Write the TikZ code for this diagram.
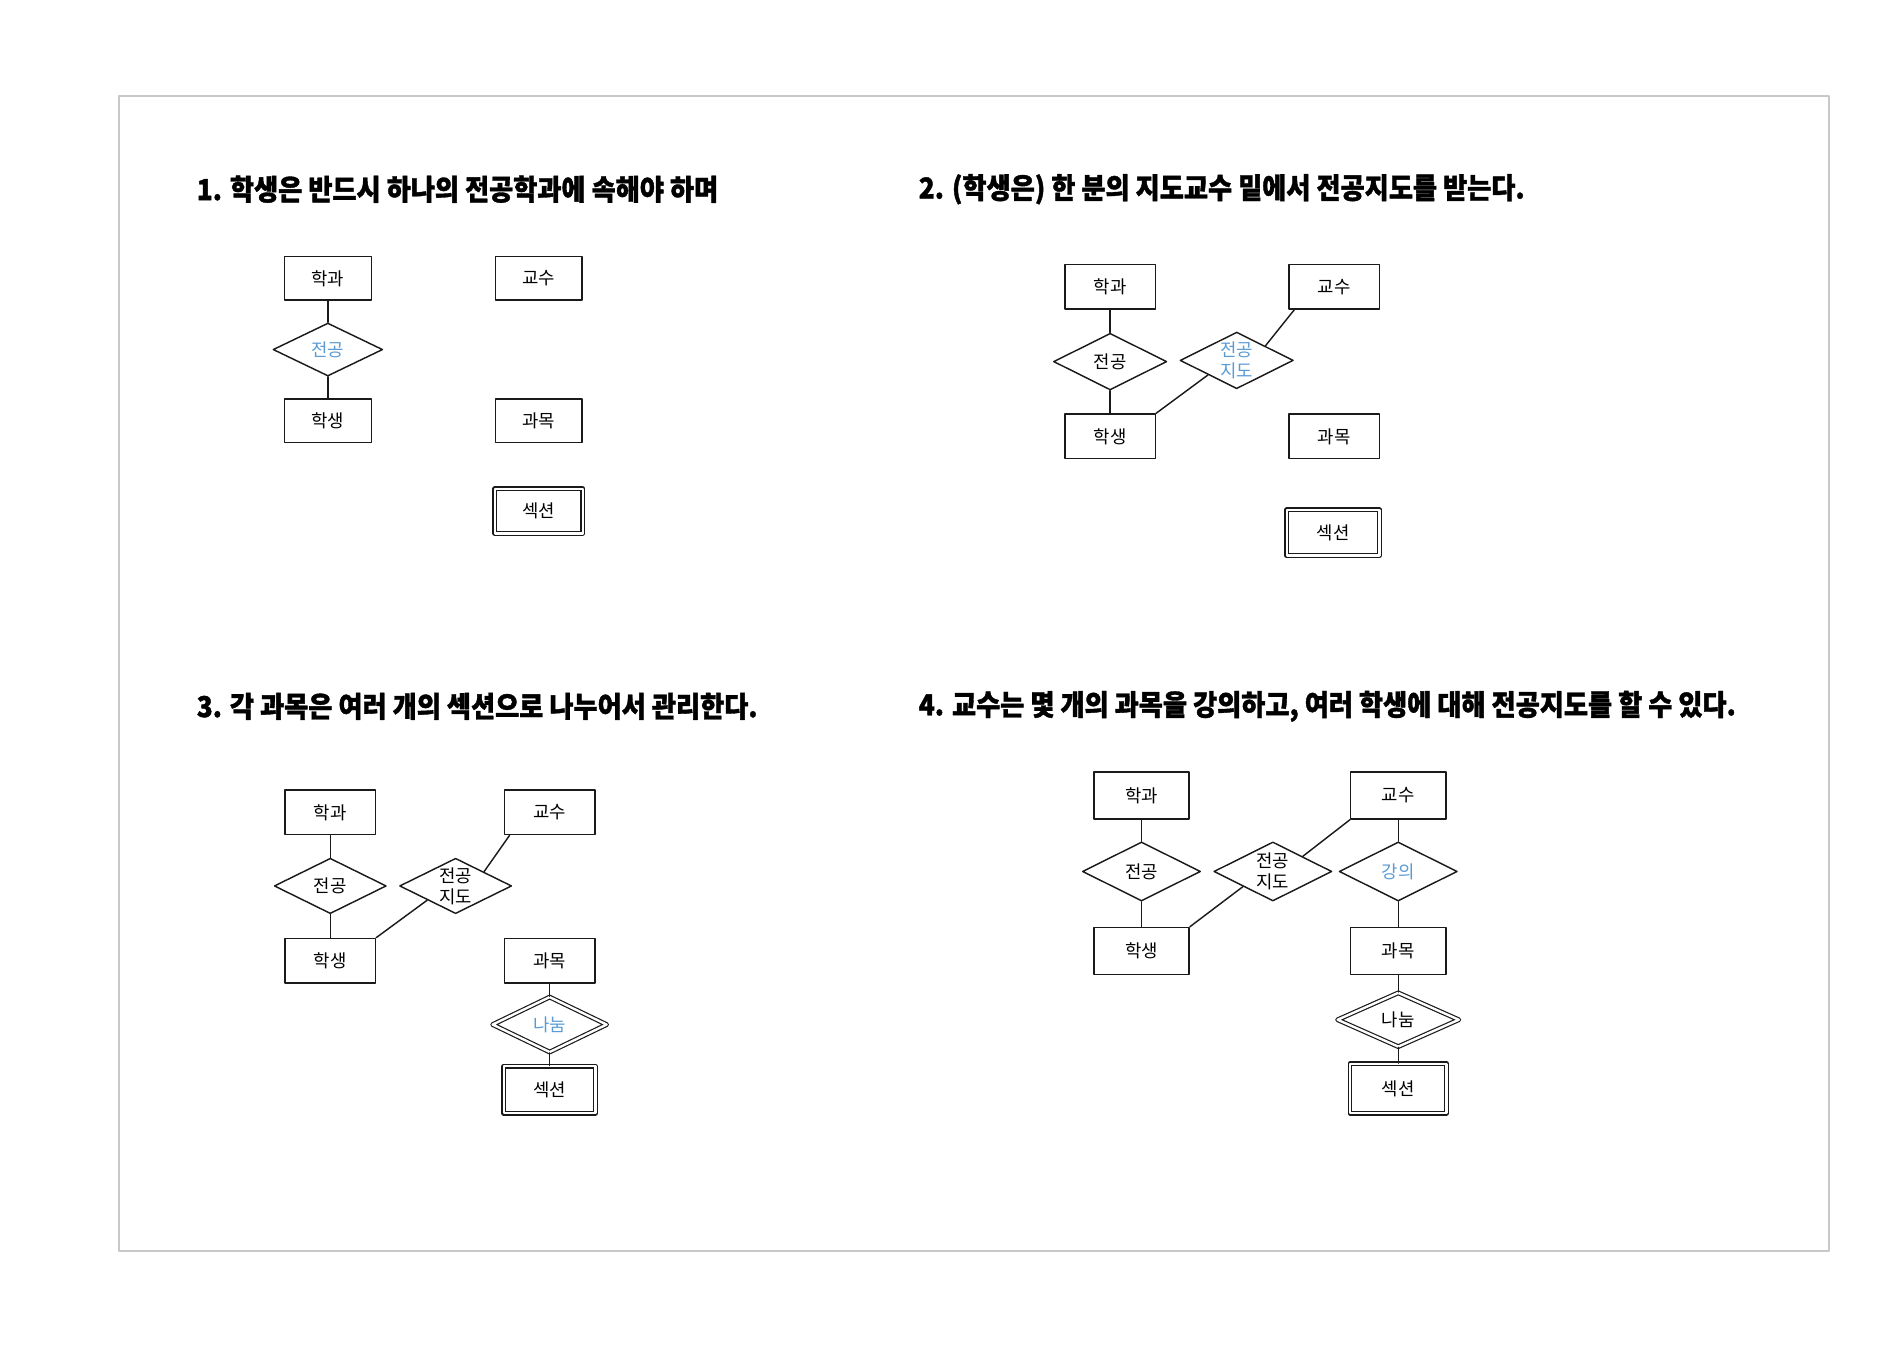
\documentclass[tikz,border=0pt]{standalone}
\usepackage{fontspec}
\setmainfont{Noto Sans CJK KR}
\newfontfamily\titlefont{Noto Sans CJK KR}[FakeStretch=0.91,BoldFeatures={FakeBold=1.3}]
\usepackage{xcolor}
\usepackage{tikz}
\usetikzlibrary{positioning,calc,shapes.geometric}
\definecolor{ink}{HTML}{1A1A1A}
\definecolor{hlblue}{HTML}{5B9BD5}
\definecolor{framegray}{HTML}{C8C8C8}
\tikzset{
    every picture/.style={line cap=round,line join=round},
    entitybox/.style={draw=ink,fill=white,line width=0.85pt,
      minimum width=1.875cm,minimum height=0.925cm,inner sep=1pt,
      font=\fontsize{10.5}{11}\selectfont,align=center},
    weakbox/.style={entitybox,double,double distance=1.4pt,line width=0.7pt},
    relbox/.style={draw=ink,fill=white,diamond,aspect=2,line width=0.85pt,
      minimum width=2.35cm,minimum height=1.175cm,inner sep=0pt,
      font=\fontsize{10.5}{12.5}\selectfont,align=center},
    weakrel/.style={relbox,double,double distance=1.4pt,line width=0.7pt},
    hl/.style={text=hlblue},
    conn/.style={draw=ink,line width=0.85pt},
    headline/.style={anchor=west,inner sep=0pt,
      font=\titlefont\bfseries\fontsize{17}{19}\selectfont}
}

\begin{document}
\begin{tikzpicture}
  \useasboundingbox (0,0) rectangle (39.2,-28.145);
  \draw[framegray,line width=1.2pt] (2.475,-2.0) rectangle (37.925,-25.95);

  % 1
  \node[headline] (t1) at (4.075,-3.925) {1. 학생은 반드시 하나의 전공학과에 속해야 하며};
  \begin{scope}[entitybox/.append style={minimum width=1.8cm,minimum height=0.9cm},
      relbox/.append style={minimum width=2.275cm,minimum height=1.1cm}]
    \node[entitybox] (dept1) at (6.8,-5.775) {학과};
    \node[entitybox] (prof1) at (11.175,-5.775) {교수};
    \node[relbox,hl] (maj1) at (6.8,-7.25) {전공};
    \node[entitybox] (stu1) at (6.8,-8.725) {학생};
    \node[entitybox] (crs1) at (11.175,-8.725) {과목};
    \node[weakbox,minimum width=1.825cm,minimum height=0.925cm] (sec1) at (11.175,-10.6) {섹션};
  \end{scope}
  \draw[conn] (dept1)--(maj1)--(stu1);

  % 2
  \node[headline] (t2) at (19.05,-3.925) {2. (학생은) 한 분의 지도교수 밑에서 전공지도를 받는다.};
  \node[entitybox] (dept2) at (23.025,-5.95) {학과};
  \node[entitybox] (prof2) at (27.675,-5.95) {교수};
  \node[relbox] (maj2) at (23.025,-7.5) {전공};
  \node[relbox,hl] (adv2) at (25.65,-7.475) {전공\\지도};
  \node[entitybox] (stu2) at (23.025,-9.05) {학생};
  \node[entitybox] (crs2) at (27.675,-9.05) {과목};
  \node[weakbox,minimum width=1.925cm,minimum height=0.95cm] (sec2) at (27.65,-11.05) {섹션};
  \draw[conn] (dept2)--(maj2)--(stu2);
  \draw[conn] ($(prof2.south west)+(0.12,0)$)--(adv2.north east);
  \draw[conn] (stu2.north east)--(adv2.south west);

  % 3
  \node[headline] (t3) at (4.075,-14.65) {3. 각 과목은 여러 개의 섹션으로 나누어서 관리한다.};
  \begin{scope}[relbox/.append style={minimum width=2.325cm,minimum height=1.15cm}]
    \node[entitybox] (dept3) at (6.85,-16.85) {학과};
    \node[entitybox] (prof3) at (11.4,-16.85) {교수};
    \node[relbox] (maj3) at (6.85,-18.375) {전공};
    \node[relbox] (adv3) at (9.45,-18.375) {전공\\지도};
    \node[entitybox] (stu3) at (6.85,-19.925) {학생};
    \node[entitybox] (crs3) at (11.4,-19.925) {과목};
    \node[weakrel,hl,minimum width=2.375cm,minimum height=1.15cm] (div3) at (11.4,-21.25) {나눔};
    \node[weakbox,minimum width=1.9cm,minimum height=0.975cm] (sec3) at (11.4,-22.6) {섹션};
  \end{scope}
  \draw[conn] (dept3)--(maj3)--(stu3);
  \draw[conn] ($(prof3.south west)+(0.12,0)$)--(adv3.north east);
  \draw[conn] (stu3.north east)--(adv3.south west);
  \draw[conn] (crs3)--(div3)--(sec3);

  % 4
  \node[headline] (t4) at (19.05,-14.65) {4. 교수는 몇 개의 과목을 강의하고, 여러 학생에 대해 전공지도를 할 수 있다.};
  \begin{scope}[entitybox/.append style={minimum width=1.975cm,minimum height=0.975cm},
      relbox/.append style={minimum width=2.45cm,minimum height=1.225cm}]
    \node[entitybox] (dept4) at (23.675,-16.5) {학과};
    \node[entitybox] (prof4) at (29.0,-16.5) {교수};
    \node[relbox] (maj4) at (23.675,-18.075) {전공};
    \node[relbox] (adv4) at (26.4,-18.075) {전공\\지도};
    \node[relbox,hl] (lec4) at (29.0,-18.075) {강의};
    \node[entitybox] (stu4) at (23.675,-19.725) {학생};
    \node[entitybox] (crs4) at (29.0,-19.725) {과목};
    \node[weakrel,minimum width=2.525cm,minimum height=1.125cm] (div4) at (29.0,-21.15) {나눔};
    \node[weakbox,minimum width=2.0cm,minimum height=1.025cm] (sec4) at (29.0,-22.575) {섹션};
  \end{scope}
  \draw[conn] (dept4)--(maj4)--(stu4);
  \draw[conn] (prof4.south west)--(adv4.north east);
  \draw[conn] (stu4.north east)--(adv4.south west);
  \draw[conn] (prof4)--(lec4)--(crs4)--(div4)--(sec4);
\end{tikzpicture}
\end{document}
